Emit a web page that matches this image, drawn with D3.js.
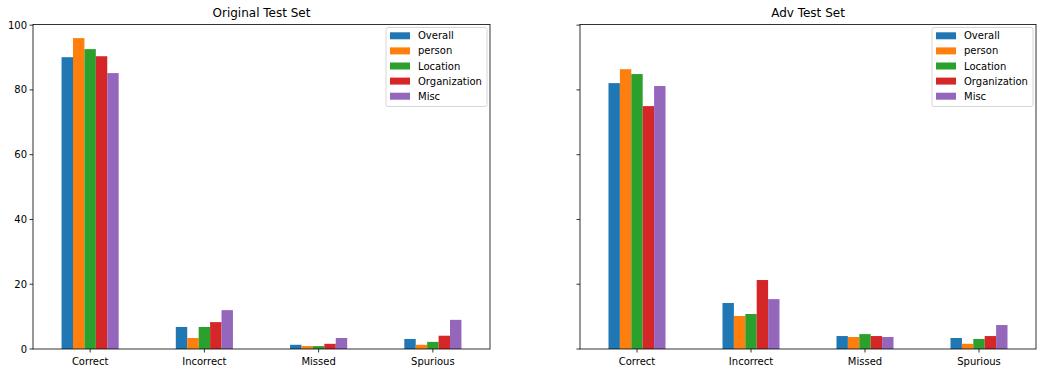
<!DOCTYPE html>
<html lang="en">
<head>
  <meta charset="utf-8">
  <title>Test Set Results</title>
  <script src="https://d3js.org/d3.v7.min.js"></script>
  <style>
    body { margin: 0; background: #fff; }
    svg text { font-family: "DejaVu Sans", sans-serif; fill: #000; }
  </style>
</head>
<body>
<svg id="chart" width="1044" height="373"></svg>
<script>
// categories and series
var categories = ["Correct", "Incorrect", "Missed", "Spurious"]
var seriesNames = ["Overall", "person", "Location", "Organization", "Misc"]
var colors = ["#1f77b4", "#ff7f0e", "#2ca02c", "#d62728", "#9467bd"]
var yTicks = [0, 20, 40, 60, 80, 100]

// values per series, one per category
var origOverall = [90.1, 6.8, 1.3, 3.1]
var origPerson = [96.0, 3.4, 0.9, 1.3]
var origLocation = [92.6, 6.8, 0.9, 2.2]
var origOrg = [90.4, 8.3, 1.6, 4.1]
var origMisc = [85.2, 12.0, 3.4, 9.0]

var advOverall = [82.1, 14.2, 4.0, 3.4]
var advPerson = [86.4, 10.2, 3.7, 1.6]
var advLocation = [84.9, 10.8, 4.6, 3.1]
var advOrg = [75.0, 21.3, 4.0, 4.0]
var advMisc = [81.2, 15.4, 3.7, 7.4]

var panels = [
  {title: "Original Test Set", left: 33, right: 490, showY: true,
   series: [origOverall, origPerson, origLocation, origOrg, origMisc]},
  {title: "Adv Test Set", left: 580, right: 1036, showY: false,
   series: [advOverall, advPerson, advLocation, advOrg, advMisc]}
]

// window.top is read-only, so use other names
var plotTop = 24.5, plotBottom = 349
var svg = d3.select("#chart")

var y = d3.scaleLinear().domain([0, 100.2]).range([plotBottom, plotTop])

panels.forEach(function(p) {
  var g = svg.append("g")
  // pandas-style: categories at 0..n-1, limits -0.5..n-0.5
  var x = d3.scaleLinear().domain([-0.5, categories.length - 0.5]).range([p.left, p.right])
  var barW = 0.5 / seriesNames.length

  p.series.forEach(function(vals, si) {
    g.selectAll(null)
      .data(vals)
      .enter().append("rect")
      .attr("x", function(d, ci) { return x(ci - 0.25 + si * barW) })
      .attr("width", x(barW) - x(0))
      .attr("y", function(d) { return y(d) })
      .attr("height", function(d) { return y(0) - y(d) })
      .attr("fill", colors[si])
  })

  // frame
  g.append("rect")
    .attr("x", p.left).attr("y", plotTop)
    .attr("width", p.right - p.left).attr("height", plotBottom - plotTop)
    .attr("fill", "none").attr("stroke", "#000").attr("stroke-width", 0.8)

  // x axis
  var xAxis = g.append("g").attr("transform", "translate(0," + plotBottom + ")")
  categories.forEach(function(c, i) {
    xAxis.append("line").attr("x1", x(i)).attr("x2", x(i)).attr("y1", 0).attr("y2", 3.5)
      .attr("stroke", "#000").attr("stroke-width", 0.8)
    xAxis.append("text").attr("x", x(i)).attr("y", 15.5).attr("text-anchor", "middle")
      .attr("font-size", "10px").text(c)
  })

  // y axis
  var yAxis = g.append("g")
  yTicks.forEach(function(t) {
    yAxis.append("line").attr("x1", p.left - 3.5).attr("x2", p.left).attr("y1", y(t)).attr("y2", y(t))
      .attr("stroke", "#000").attr("stroke-width", 0.8)
    if (p.showY) {
      yAxis.append("text").attr("x", p.left - 6).attr("y", y(t)).attr("dy", "0.35em")
        .attr("text-anchor", "end").attr("font-size", "10px").text(t)
    }
  })

  // title
  g.append("text").attr("x", (p.left + p.right) / 2).attr("y", 17)
    .attr("text-anchor", "middle").attr("font-size", "12px").text(p.title)

  // legend
  var lgW = 101, lgX = p.right - 3 - lgW, lgY = 27.5
  var lg = g.append("g").attr("transform", "translate(" + lgX + "," + lgY + ")")
  lg.append("rect").attr("width", lgW).attr("height", 79).attr("rx", 2)
    .attr("fill", "#fff").attr("fill-opacity", 0.8).attr("stroke", "#ccc").attr("stroke-width", 0.8)
  seriesNames.forEach(function(n, i) {
    var ry = 8.3 + i * 15.1
    lg.append("rect").attr("x", 4).attr("y", ry - 3.5).attr("width", 20).attr("height", 7)
      .attr("fill", colors[i])
    lg.append("text").attr("x", 32).attr("y", ry).attr("dy", "0.35em")
      .attr("font-size", "10px").text(n)
  })
})
</script>
</body>
</html>
